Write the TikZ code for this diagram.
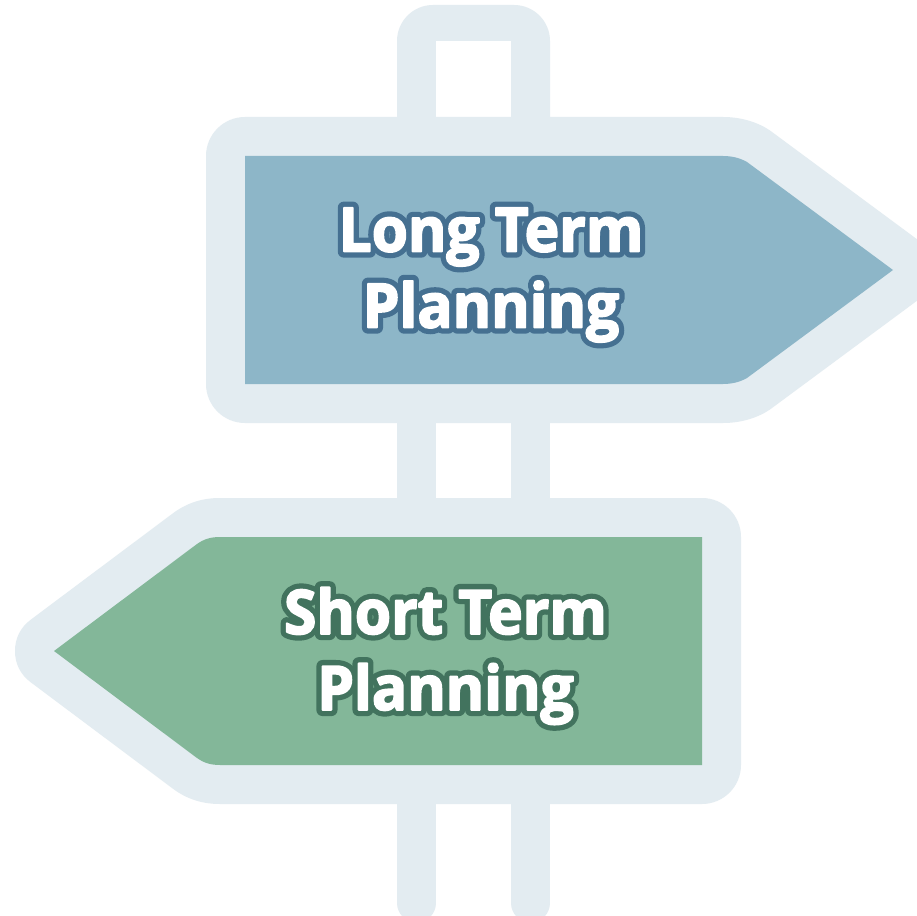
\documentclass[tikz,border=0pt]{standalone}
\usepackage{fontspec}
\setmainfont[FakeStretch=0.955]{Open Sans}
\definecolor{halo}{HTML}{E3ECF1}
\definecolor{bluefill}{HTML}{8DB6C8}
\definecolor{greenfill}{HTML}{83B799}
\newcommand{\strokedrun}[3]{\special{pdf:code q 2 Tr 1 j 1 J #2 w #1 rg #1 RG}#3\special{pdf:code Q}}
\newcommand{\haloline}[2]{\rlap{\strokedrun{#1}{9.2}{#2}}\strokedrun{1 1 1}{1.3}{#2}}
\tikzset{
  panelhalo/.style={draw=halo,line width=58.5pt,line join=round},
  signtext/.style={align=center,font=\bfseries\fontsize{46}{57}\selectfont,inner sep=0pt},
  postleg/.style={draw=halo,line width=29.25pt,line cap=round}
}
\begin{document}
\begin{tikzpicture}[x=0.75pt,y=-0.75pt]
\useasboundingbox (0,0) rectangle (917,916);
\fill[white] (0,0) rectangle (917,916);
\clip (0,0) rectangle (917,916);
% post
\fill[halo,rounded corners=27pt] (397,200) -- (397,5) -- (550,5) -- (550,200) -- cycle;
\fill[white] (436,41) rectangle (511,120);
\draw[postleg] (416.5,190) -- (416.5,903);
\draw[postleg] (530.5,190) -- (530.5,903);
% upper sign
\path[panelhalo]
  (245,156) -- (723,156) .. controls (732,156) and (740,158) .. (747,162) -- (893,270) -- (747,378) .. controls (740,382) and (732,384) .. (723,384) -- (245,384) -- cycle;
\fill[bluefill]
  (245,156) -- (723,156) .. controls (732,156) and (740,158) .. (747,162) -- (893,270) -- (747,378) .. controls (740,382) and (732,384) .. (723,384) -- (245,384) -- cycle;
% lower sign
\path[panelhalo]
  (702,537) -- (220,537) .. controls (211,537) and (204,539) .. (197,544) -- (54,651) -- (197,758) .. controls (204,763) and (211,765) .. (220,765) -- (702,765) -- cycle;
\fill[greenfill]
  (702,537) -- (220,537) .. controls (211,537) and (204,539) .. (197,544) -- (54,651) -- (197,758) .. controls (204,763) and (211,765) .. (220,765) -- (702,765) -- cycle;
\node[signtext] (longterm) at (491,275) {\haloline{0.27 0.44 0.57}{Long Term}\\\haloline{0.27 0.44 0.57}{Planning}};
\node[signtext] (shortterm) at (445.5,656) {\haloline{0.26 0.45 0.37}{Short Term}\\\haloline{0.26 0.45 0.37}{Planning}};
\end{tikzpicture}
\end{document}
